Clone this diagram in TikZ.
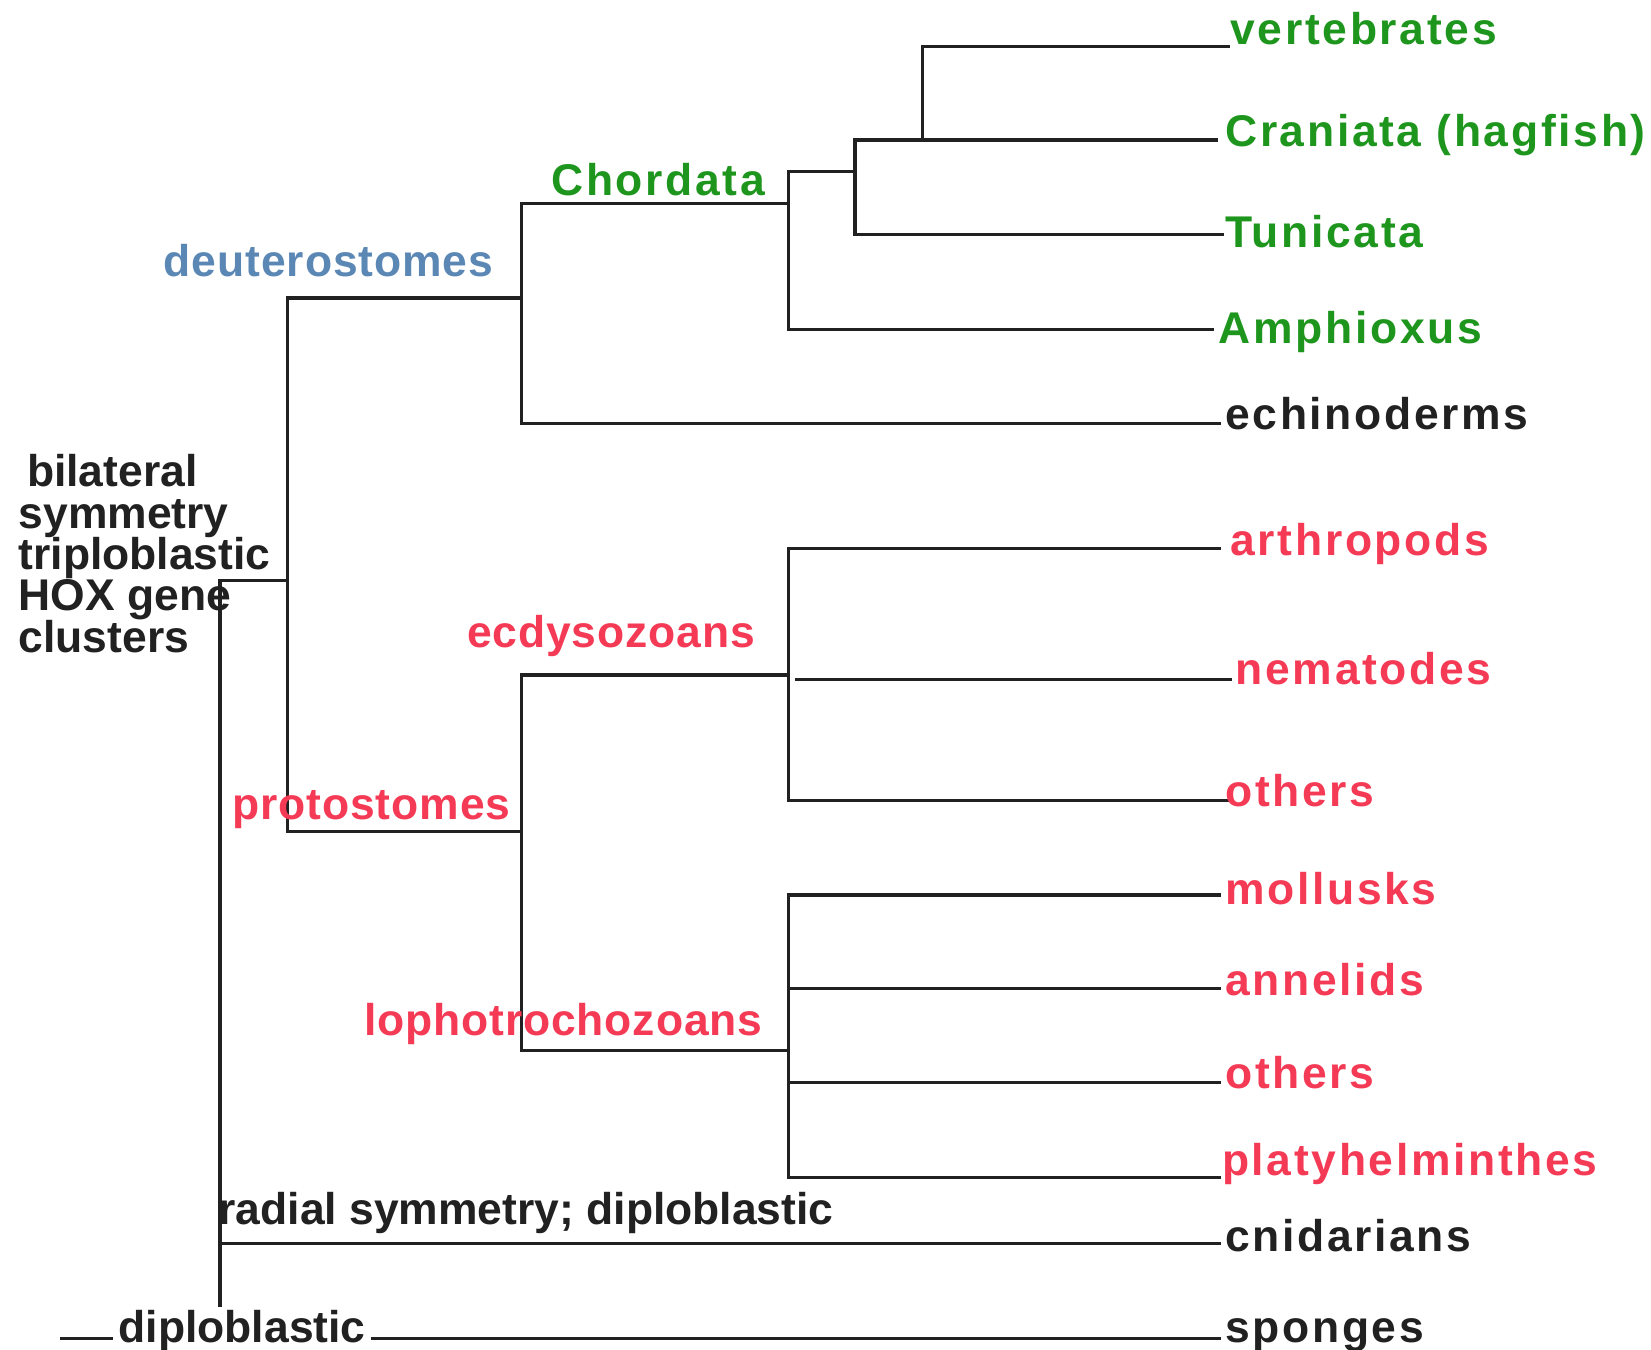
\documentclass[tikz,border=0pt]{standalone}
\usepackage{fontspec}
\setmainfont{Liberation Sans}
\newfontfamily\tipfont[LetterSpace=6]{Liberation Sans}
\newfontfamily\cladefont[LetterSpace=2]{Liberation Sans}
\definecolor{inkgray}{HTML}{212121}
\definecolor{chordgreen}{HTML}{1E961E}
\definecolor{protored}{HTML}{F53A55}
\definecolor{deutblue}{HTML}{5B87B5}
\begin{document}
\begin{tikzpicture}
[
    x=0.01cm, y=-0.01cm,
    branch/.style={draw=inkgray, line width=0.85pt},
    tip/.style={anchor=base west, inner sep=0pt, text=inkgray, font=\tipfont\bfseries\fontsize{12}{14}\selectfont},
    clade/.style={anchor=base west, inner sep=0pt, text=inkgray, font=\cladefont\bfseries\fontsize{12}{14}\selectfont},
    plain/.style={anchor=base west, inner sep=0pt, text=inkgray, font=\bfseries\fontsize{12}{11.17}\selectfont},
]
\useasboundingbox (0,0) rectangle (1568,1282);
\coordinate (stem) at (57,1271);
\coordinate (root) at (209,1271);
\coordinate (bilat) at (273,551);
\coordinate (deut) at (495,283);
\coordinate (proto) at (495,790);
\coordinate (chord) at (749,193);
\coordinate (olfac) at (812,163);
\coordinate (crani) at (876,133);
\coordinate (ecdy) at (749,641);
\coordinate (lopho) at (749,998);
\coordinate (nemabase) at (755,645);
\coordinate (vert-e) at (1168,44);
\coordinate (crani-e) at (1157,133);
\coordinate (tuni-e) at (1162,223);
\coordinate (amph-e) at (1153,313);
\coordinate (echi-e) at (1160,402);
\coordinate (arth-e) at (1160,521);
\coordinate (nema-e) at (1170,645);
\coordinate (ecoth-e) at (1170,760);
\coordinate (moll-e) at (1160,850);
\coordinate (anne-e) at (1160,939);
\coordinate (loth-e) at (1160,1028);
\coordinate (platy-e) at (1160,1118);
\coordinate (cnid-e) at (1160,1181);
\coordinate (spon-e) at (1160,1271);

\draw[branch] (stem) -- (spon-e);
\draw[branch] (root) |- (bilat);
\draw[branch] (root) |- (cnid-e);
\draw[branch] (bilat) |- (deut);
\draw[branch] (bilat) |- (proto);
\draw[branch] (deut) |- (chord);
\draw[branch] (deut) |- (echi-e);
\draw[branch] (chord) |- (olfac);
\draw[branch] (chord) |- (amph-e);
\draw[branch] (olfac) |- (crani-e);
\draw[branch] (olfac) |- (tuni-e);
\draw[branch] (crani) |- (vert-e);
\draw[branch] (proto) |- (ecdy);
\draw[branch] (proto) |- (lopho);
\draw[branch] (ecdy) |- (arth-e);
\draw[branch] (ecdy) |- (ecoth-e);
\draw[branch] (nemabase) -- (nema-e);
\foreach \t in {moll,anne,loth,platy}
    \draw[branch] (lopho) |- (\t-e);

\node[tip, text=chordgreen] (vert) at (1168,42) {vertebrates};
\node[tip, text=chordgreen] (cranilab) at (1163,139) {Craniata (hagfish)};
\node[tip, text=chordgreen] (tuni) at (1163,235) {Tunicata};
\node[tip, text=chordgreen] (amph) at (1157,326) {Amphioxus};
\node[tip] (echi) at (1163,408) {echinoderms};
\node[tip, text=protored] (arth) at (1168,528) {arthropods};
\node[tip, text=protored] (nema) at (1173,650) {nematodes};
\node[tip, text=protored] (ecoth) at (1163,766) {others};
\node[tip, text=protored] (moll) at (1163,859) {mollusks};
\node[tip, text=protored] (anne) at (1163,945) {annelids};
\node[tip, text=protored] (loth) at (1163,1034) {others};
\node[tip, text=protored] (platy) at (1160,1116) {platyhelminthes};
\node[tip] (cnid) at (1163,1189) {cnidarians};
\node[tip] (spon) at (1163,1275) {sponges};

\node[tip, text=chordgreen] (chordlab) at (523,186) {Chordata};
\node[clade, text=deutblue] (deutlab) at (155,263) {deuterostomes};
\node[clade, text=protored] (ecdylab) at (443,615) {ecdysozoans};
\node[clade, text=protored] (protolab) at (220,778) {protostomes};
\node[clade, text=protored] (lopholab) at (345,983) {lophotrochozoans};
\node[plain] (radial) at (207,1163) {radial symmetry; diploblastic};
\node[plain, fill=white, inner xsep=0.05cm, inner ysep=0.03cm] (diplo) at (107,1275) {diploblastic};
\node[plain, anchor=north west, align=left, execute at begin node={\lineskiplimit=-20pt}] (bilsym) at (17,431)
    {\hspace*{0.08cm}bilateral\\symmetry\\triploblastic\\HOX gene\\clusters};
\end{tikzpicture}
\end{document}
